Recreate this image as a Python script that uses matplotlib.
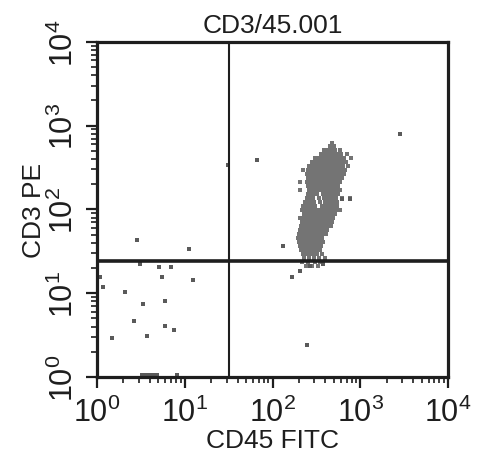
import numpy as np
import matplotlib
matplotlib.use('Agg')
import matplotlib.pyplot as plt

plt.rcParams['font.family'] = ['Liberation Sans', 'DejaVu Sans']
plt.rcParams['mathtext.fontset'] = 'custom'
plt.rcParams['mathtext.rm'] = 'Liberation Sans'
plt.rcParams['mathtext.it'] = 'Liberation Sans'

# quadrant gate
gate_fitc = 32
gate_pe = 24

# main T-cell cluster, read row by row (PE level -> FITC values)
cluster_pe = [622, 573, 513, 460, 412, 369, 331, 296, 265, 238, 213, 191, 171,
              153, 137, 123, 110, 98.6, 88.3, 79.2, 70.9, 63.5, 56.9, 51.0,
              45.7, 40.9, 36.7, 32.8, 29.4, 26.4, 23.6, 21.2]
cluster_fitc = [
    [476],
    [452, 502],
    [386, 429, 464, 515, 588],
    [357, 397, 429, 464, 502, 543, 603, 706],
    [305, 339, 366, 397, 429, 464, 502, 543, 588, 653, 784],
    [282, 305, 330, 357, 386, 418, 452, 489, 529, 572, 619, 688],
    [261, 282, 305, 330, 357, 386, 418, 452, 489, 529, 572, 636, 725],
    [223, 254, 275, 297, 321, 348, 376, 407, 440, 476, 515, 557, 603, 670],
    [248, 267, 289, 313, 339, 366, 397, 429, 464, 502, 543, 588, 653],
    [254, 275, 297, 321, 348, 376, 407, 440, 476, 515, 557, 619],
    [206, 248, 267, 289, 313, 339, 366, 397, 429, 464, 502, 543, 588],
    [254, 275, 297, 321, 348, 376, 407, 440, 476, 515, 557],
    [206, 261, 282, 305, 330, 357, 386, 418, 452, 489, 529, 588],
    [254, 275, 297, 321, 376, 407, 440, 476, 515, 557],
    [248, 267, 289, 339, 386, 418, 452, 489, 529, 619, 764],
    [235, 254, 275, 297, 348, 397, 429, 464, 502, 543],
    [223, 241, 261, 282, 305, 366, 397, 429, 464, 502, 543],
    [217, 235, 254, 275, 297, 321, 348, 376, 407, 440, 476, 529, 588],
    [229, 248, 267, 289, 313, 339, 366, 397, 429, 464, 515],
    [206, 223, 241, 261, 282, 305, 330, 357, 386, 418, 452, 489],
    [217, 235, 254, 275, 297, 321, 348, 376, 407, 440, 476],
    [211, 229, 248, 267, 289, 313, 339, 366, 397, 429, 464],
    [206, 223, 241, 261, 282, 305, 330, 357, 386, 418],
    [200, 217, 235, 254, 275, 297, 321, 348, 376, 407],
    [195, 211, 229, 248, 267, 289, 313, 339, 366],
    [200, 217, 235, 254, 275, 297, 321, 348, 376],
    [206, 223, 241, 261, 282, 305, 330, 357],
    [211, 229, 248, 267, 289, 313, 348],
    [223, 241, 267, 289, 321, 366],
    [229, 261, 297, 339, 397],
    [217, 254, 305, 348],
    [241, 282, 330],
]

# scattered events outside the cluster
other_fitc = [2838, 66.6, 31.1, 247, 132, 167, 206, 267, 376, 764, 620,
              2.86, 11.2, 3.09, 5.09, 6.97, 5.5, 12.4, 1.08, 1.17, 2.08,
              3.34, 5.96, 2.64, 5.96, 7.54, 3.71, 1.48,
              3.26, 3.62, 4.02, 4.46, 4.83, 8.16]
other_pe = [797, 390, 340, 2.41, 36.7, 15.6, 18.4, 21.2, 22.4, 133, 133,
            43.2, 33.8, 22.4, 20.6, 20.6, 15.6, 14.4, 15.6, 11.9, 10.4,
            7.44, 8.08, 4.66, 4.06, 3.64, 3.09, 2.92,
            1.05, 1.05, 1.05, 1.05, 1.05, 1.05]

tick_vals = [1, 10, 100, 1000, 10000]
tick_labels = [r'$\mathdefault{10^{0}}$', r'$\mathdefault{10^{1}}$', r'$\mathdefault{10^{2}}$',
               r'$\mathdefault{10^{3}}$', r'$\mathdefault{10^{4}}$']

cx = [x for row in cluster_fitc for x in row]
cy = [y for y, row in zip(cluster_pe, cluster_fitc) for x in row]

fig = plt.figure(figsize=(5.0, 4.56), dpi=100)
ax = fig.add_axes([0.194, 0.171, 0.702, 0.735])

ax.scatter(cx, cy, s=5.5, marker='s', color='#747474', linewidths=0)
ax.scatter(other_fitc, other_pe, s=5, marker='s', color='#5a5a5a', linewidths=0)

ax.axvline(gate_fitc, color='#1e1e1e', linewidth=1.5)
ax.axhline(gate_pe, color='#1e1e1e', linewidth=2.6)

ax.set_xscale('log')
ax.set_yscale('log')
ax.set_xlim(1, 10000)
ax.set_ylim(1, 10000)

for sp in ax.spines.values():
    sp.set_linewidth(2.3)
    sp.set_color('#1e1e1e')

ax.set_xticks(tick_vals)
ax.set_xticklabels(tick_labels, fontsize=22)
ax.set_yticks(tick_vals)
ax.set_yticklabels(tick_labels, fontsize=22, rotation=90, va='center')
ax.tick_params(which='major', direction='out', length=8, width=1.6, color='#1e1e1e', pad=1)
ax.tick_params(axis='x', which='major', pad=6)
ax.tick_params(axis='y', which='major', pad=4)
ax.tick_params(which='minor', direction='out', length=4, width=1.2, color='#1e1e1e')
ax.tick_params(labelcolor='#1e1e1e')

ax.set_title('CD3/45.001', fontsize=19, color='#1e1e1e', pad=7)
ax.set_xlabel('CD45 FITC', fontsize=19, color='#1e1e1e', labelpad=0)
ax.set_ylabel('CD3 PE', fontsize=19, color='#1e1e1e', labelpad=2)

fig.savefig('out.png', dpi=100)
